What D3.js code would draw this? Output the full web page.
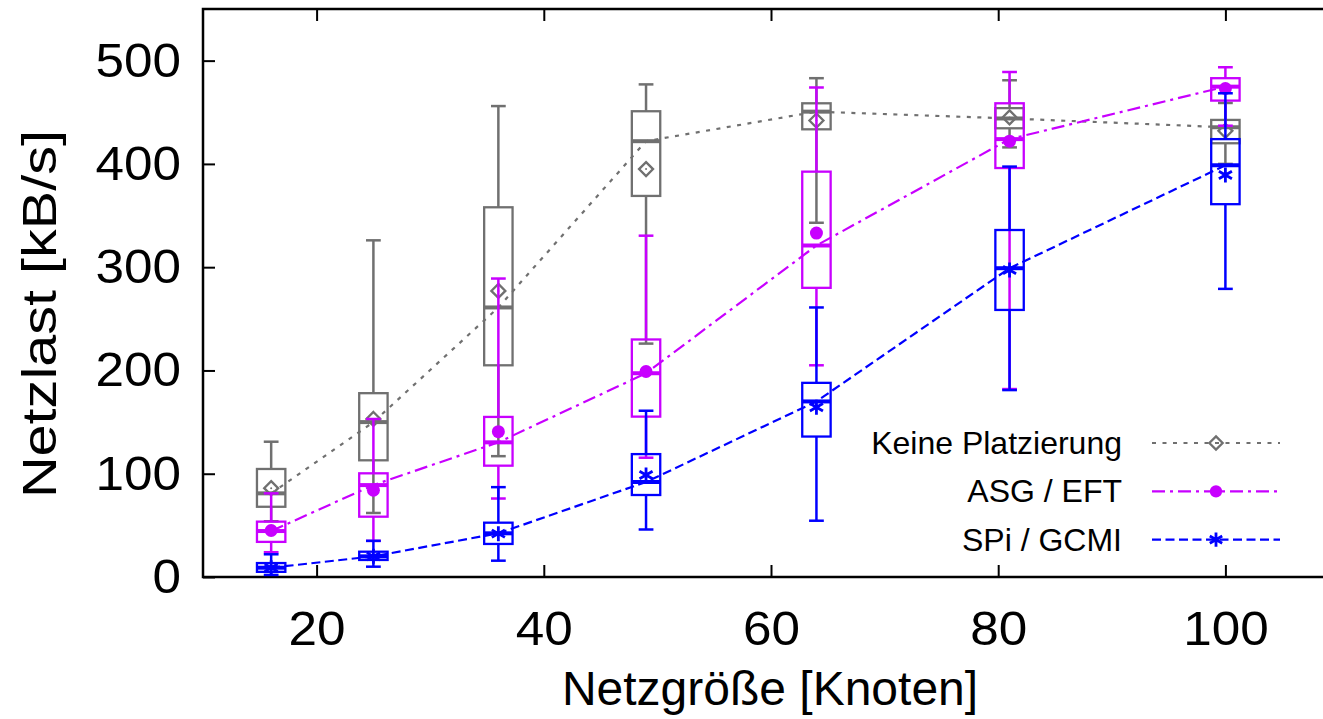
<!DOCTYPE html>
<html>
<head>
<meta charset="utf-8">
<script src="https://cdn.jsdelivr.net/npm/d3@7"></script>
<style>
    body { margin: 0; background: #fff; }
    svg { display: block; font-family: "Liberation Sans", Arial, sans-serif; }
</style>
</head>
<body>
<div class="chart"></div>
<script>
    // Netzgröße (x)
    let sizes = [16, 25, 36, 49, 64, 81, 100];

    let xTicks = [20, 40, 60, 80, 100];
    let yTicks = [0, 100, 200, 300, 400, 500];

    // Keine Platzierung
    let keineMin = [54, 62, 117, 226, 343, 416, 400];
    let keineQ1 = [68, 113, 205, 369, 433.5, 434.5, 420];
    let keineMedian = [81, 150, 261, 422, 450.6, 444, 435.5];
    let keineQ3 = [104.6, 178, 358, 451, 458.7, 454, 442.6];
    let keineMax = [131, 326, 456, 477, 483, 481, 459];
    let keineMean = [86, 153, 277, 395, 442, 445, 432];

    // ASG / EFT
    let asgMin = [24, 35, 76, 115.5, 205, 182, 437];
    let asgQ1 = [34, 58.4, 107.8, 155.3, 280, 396, 461.3];
    let asgMedian = [44.5, 89, 130.4, 197.3, 321, 424, 474.8];
    let asgQ3 = [53.6, 100.4, 155, 230, 392.5, 458.7, 483];
    let asgMax = [81, 153, 289, 330.5, 474, 489, 493.6];
    let asgMean = [45, 84, 140.7, 199, 333, 422, 473];

    // SPi / GCMI
    let spiMin = [2, 10, 15.8, 46, 54.5, 181, 279];
    let spiQ1 = [5, 16.5, 32, 79.4, 136, 258.6, 361];
    let spiMedian = [9, 20, 42.3, 92, 170, 299, 398.7];
    let spiQ3 = [13.5, 24.5, 52.6, 119, 188, 336, 424];
    let spiMax = [22, 35, 87, 161, 261, 397.4, 468.4];
    let spiMean = [9, 20, 42, 98.8, 164.3, 297.3, 389.3];

    let seriesNames = ["Keine Platzierung", "ASG / EFT", "SPi / GCMI"];

    let series = [
        { name: seriesNames[0], color: "#707070", dash: "4,6.5", marker: "diamond",
          min: keineMin, q1: keineQ1, median: keineMedian, q3: keineQ3, max: keineMax, mean: keineMean },
        { name: seriesNames[1], color: "#c800ff", dash: "13,5,3,5", marker: "circle",
          min: asgMin, q1: asgQ1, median: asgMedian, q3: asgQ3, max: asgMax, mean: asgMean },
        { name: seriesNames[2], color: "#0000ff", dash: "9,4.5", marker: "star",
          min: spiMin, q1: spiQ1, median: spiMedian, q3: spiQ3, max: spiMax, mean: spiMean }
    ];

    let width = 1323,
        height = 719;

    let x = d3.scaleLinear().domain([10, 110]).range([203, 1339]);
    let y = d3.scaleLinear().domain([0, 550]).range([577, 9]);

    let boxW = x(2.5) - x(0);
    let capW = x(1.3) - x(0);

    let svg = d3.select(".chart").append("svg")
        .attr("width", width)
        .attr("height", height);

    // axes, ticks pointing inward
    svg.append("g")
        .attr("transform", "translate(0," + y(0) + ")")
        .call(d3.axisBottom(x).tickValues(xTicks).tickSizeInner(-12).tickSizeOuter(0).tickPadding(34))
        .call(styleAxis);

    svg.append("g")
        .attr("transform", "translate(0," + y(550) + ")")
        .call(d3.axisTop(x).tickValues(xTicks).tickSizeInner(-12).tickSizeOuter(0).tickFormat(""))
        .call(styleAxis);

    svg.append("g")
        .attr("transform", "translate(" + x(10) + ",0)")
        .call(d3.axisLeft(y).tickValues(yTicks).tickSizeInner(-12).tickSizeOuter(0).tickPadding(22))
        .call(styleAxis);

    function styleAxis(g) {
        g.select(".domain").remove();
        g.selectAll(".tick line").attr("stroke", "#000").attr("stroke-width", 2);
        g.selectAll(".tick text")
            .attr("fill", "#000")
            .style("font-size", "48px")
            .attr("textLength", function () { return this.textContent.length * 28.5; })
            .attr("lengthAdjust", "spacingAndGlyphs");
    }

    svg.append("rect")
        .attr("x", x(10))
        .attr("y", y(550))
        .attr("width", x(110) - x(10))
        .attr("height", y(0) - y(550))
        .attr("fill", "none")
        .attr("stroke", "#000")
        .attr("stroke-width", 2.5);

    svg.append("text")
        .attr("transform", "translate(56,314) rotate(-90)")
        .attr("text-anchor", "middle")
        .attr("textLength", 368)
        .attr("lengthAdjust", "spacingAndGlyphs")
        .style("font-size", "48px")
        .text("Netzlast [kB/s]");

    svg.append("text")
        .attr("x", 770)
        .attr("y", 705)
        .attr("text-anchor", "middle")
        .style("font-size", "48px")
        .text("Netzgröße [Knoten]");

    function drawMarker(g, type, cx, cy, color, scale) {
        let s = scale || 1;
        if (type === "diamond") {
            let r = 7 * s;
            g.append("path")
                .attr("d", "M" + cx + "," + (cy - r) + "L" + (cx + r) + "," + cy + "L" + cx + "," + (cy + r) + "L" + (cx - r) + "," + cy + "Z")
                .attr("fill", "none").attr("stroke", color).attr("stroke-width", 2.3);
            g.append("circle").attr("cx", cx).attr("cy", cy).attr("r", 1).attr("fill", color);
        } else if (type === "circle") {
            g.append("circle").attr("cx", cx).attr("cy", cy).attr("r", 6.5 * s).attr("fill", color);
        } else {
            let r = 7.5 * s;
            let d = "M" + cx + "," + (cy - r) + "V" + (cy + r) +
                    "M" + (cx - r * 0.87) + "," + (cy - r / 2) + "L" + (cx + r * 0.87) + "," + (cy + r / 2) +
                    "M" + (cx - r * 0.87) + "," + (cy + r / 2) + "L" + (cx + r * 0.87) + "," + (cy - r / 2);
            g.append("path").attr("d", d).attr("stroke", color).attr("stroke-width", 2.8).attr("fill", "none");
        }
    }

    series.forEach(function (s) {
        let g = svg.append("g");
        let data = sizes.map(function (n, i) {
            return { n: n, min: s.min[i], q1: s.q1[i], median: s.median[i], q3: s.q3[i], max: s.max[i], mean: s.mean[i] };
        });

        // whiskers
        data.forEach(function (d) {
            g.append("line")
                .attr("x1", x(d.n)).attr("x2", x(d.n))
                .attr("y1", y(d.q3)).attr("y2", y(d.max))
                .attr("stroke", s.color).attr("stroke-width", 2.5);
            g.append("line")
                .attr("x1", x(d.n)).attr("x2", x(d.n))
                .attr("y1", y(d.q1)).attr("y2", y(d.min))
                .attr("stroke", s.color).attr("stroke-width", 2.5);
            [d.min, d.max].forEach(function (v) {
                g.append("line")
                    .attr("x1", x(d.n) - capW / 2).attr("x2", x(d.n) + capW / 2)
                    .attr("y1", y(v)).attr("y2", y(v))
                    .attr("stroke", s.color).attr("stroke-width", 2.5);
            });
        });

        g.selectAll(".box")
            .data(data)
            .enter().append("rect")
            .attr("x", function (d) { return x(d.n) - boxW / 2; })
            .attr("y", function (d) { return y(d.q3); })
            .attr("width", boxW)
            .attr("height", function (d) { return y(d.q1) - y(d.q3); })
            .attr("fill", "none")
            .attr("stroke", s.color)
            .attr("stroke-width", 2.3);

        g.selectAll(".median")
            .data(data)
            .enter().append("line")
            .attr("x1", function (d) { return x(d.n) - boxW / 2; })
            .attr("x2", function (d) { return x(d.n) + boxW / 2; })
            .attr("y1", function (d) { return y(d.median); })
            .attr("y2", function (d) { return y(d.median); })
            .attr("stroke", s.color)
            .attr("stroke-width", 4);

        let line = d3.line()
            .x(function (d) { return x(d.n); })
            .y(function (d) { return y(d.median); });

        g.append("path")
            .datum(data)
            .attr("d", line)
            .attr("fill", "none")
            .attr("stroke", s.color)
            .attr("stroke-width", 2.2)
            .attr("stroke-dasharray", s.dash);

        data.forEach(function (d) {
            drawMarker(g, s.marker, x(d.n), y(d.mean), s.color);
        });
    });

    // legend
    let legend = svg.append("g");
    series.forEach(function (s, i) {
        let ly = 443 + i * 48.3;
        legend.append("text")
            .attr("x", 1122)
            .attr("y", ly + 11)
            .attr("text-anchor", "end")
            .style("font-size", "32px")
            .text(s.name);
        legend.append("line")
            .attr("x1", 1152).attr("x2", 1280)
            .attr("y1", ly).attr("y2", ly)
            .attr("stroke", s.color)
            .attr("stroke-width", 2.2)
            .attr("stroke-dasharray", s.dash);
        drawMarker(legend, s.marker, 1216, ly, s.color, 0.95);
    });
</script>
</body>
</html>
